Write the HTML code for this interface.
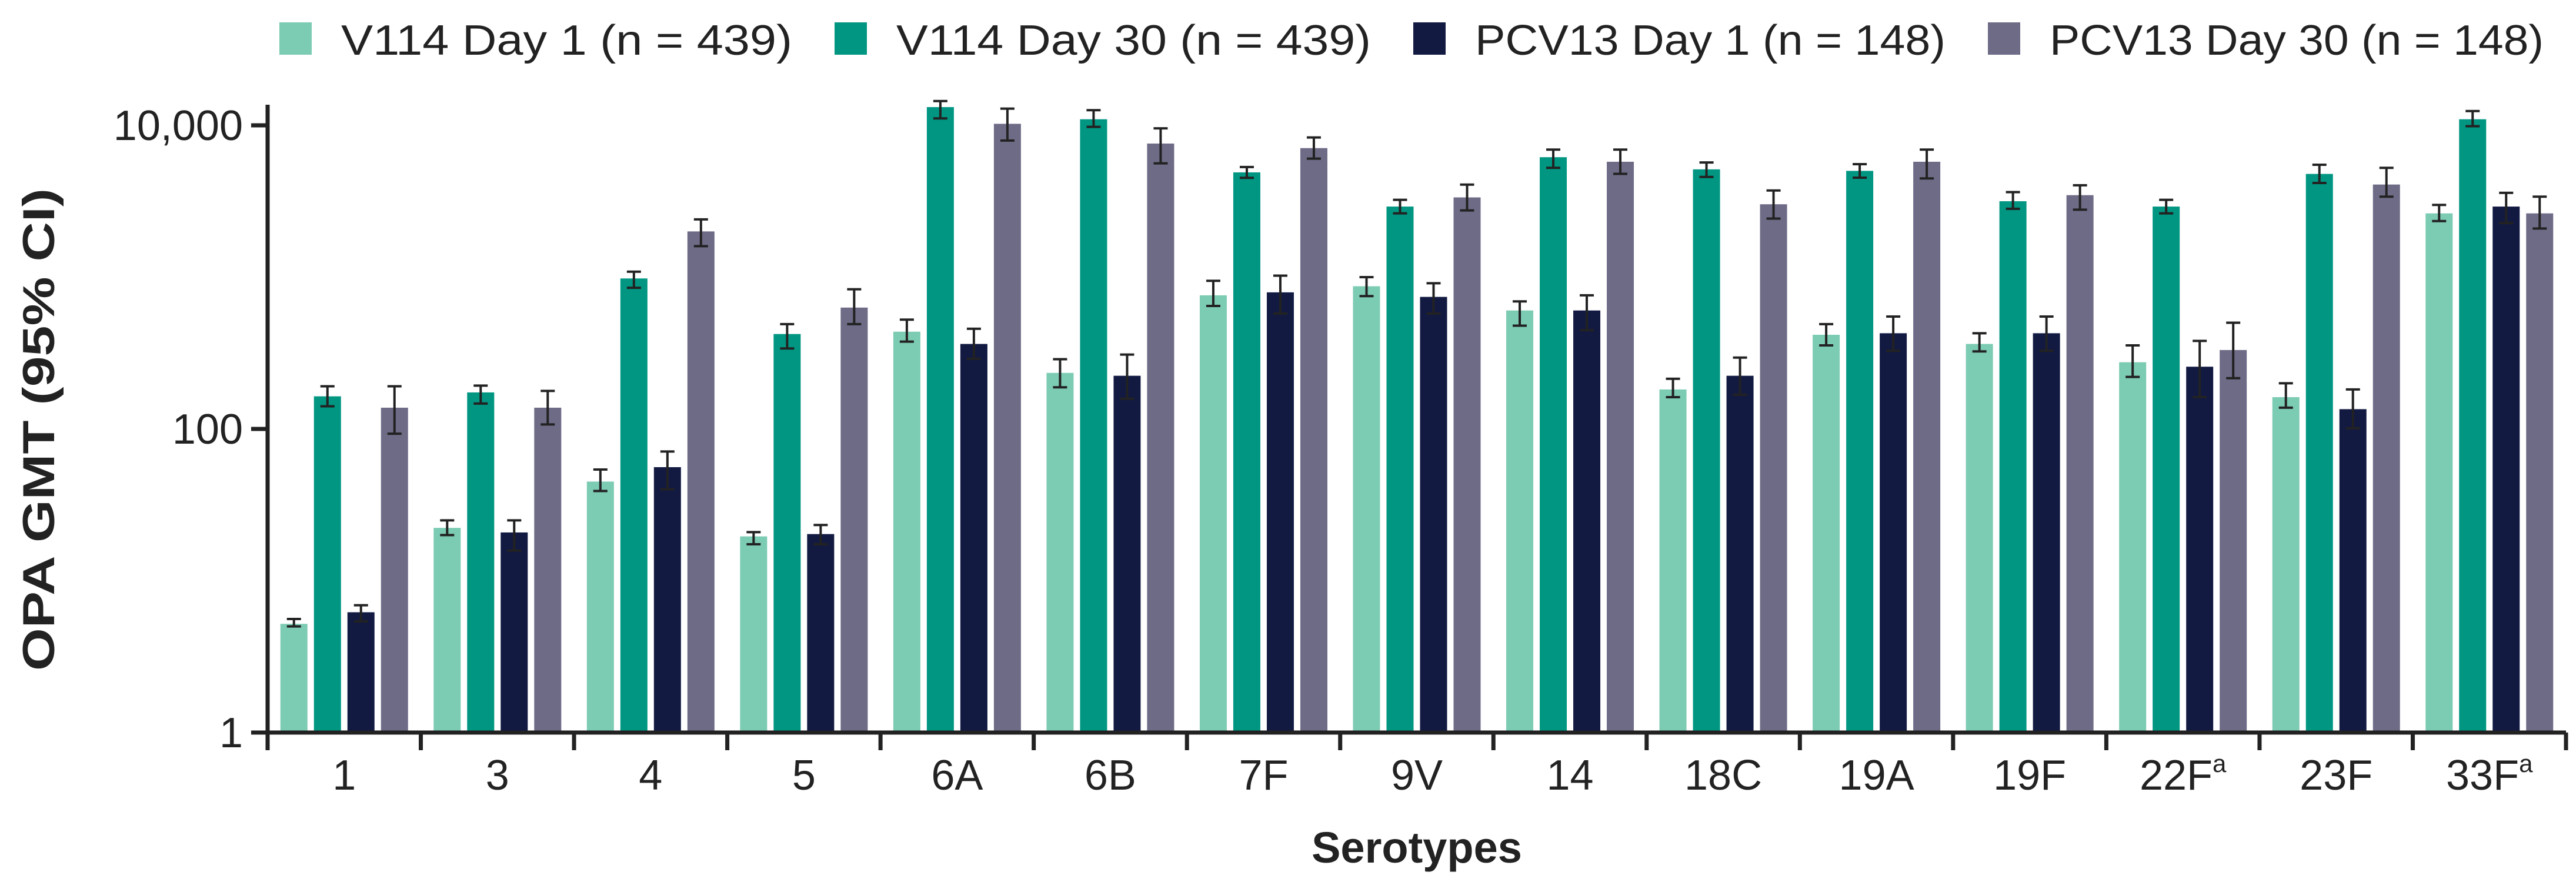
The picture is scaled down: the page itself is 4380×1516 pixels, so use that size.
<!DOCTYPE html>
<html><head><meta charset="utf-8"><style>
html,body{margin:0;padding:0;background:#fff;}
svg{display:block;font-family:"Liberation Sans",Arial,sans-serif;}
</style></head><body>
<svg id="chart" width="4380" height="1516" viewBox="0 0 4380 1516" xmlns="http://www.w3.org/2000/svg">
<g id="legend"></g>
<g id="plot"></g>
<text transform="translate(92,730) rotate(-90)" text-anchor="middle" font-weight="bold" font-size="76" fill="#222" textLength="820" lengthAdjust="spacingAndGlyphs">OPA GMT (95% CI)</text>
<text x="2409" y="1466" text-anchor="middle" font-weight="bold" font-size="74" fill="#222">Serotypes</text>
</svg>
<script>
const categories = ["1","3","4","5","6A","6B","7F","9V","14","18C","19A","19F","22F","23F","33F"];
const superscripts = ["","","","","","","","","","","","","a","","a"];
const seriesNames = ["V114 Day 1 (n = 439)","V114 Day 30 (n = 439)","PCV13 Day 1 (n = 148)","PCV13 Day 30 (n = 148)"];
const v114Day1 = [5.2,22.3,45,19.6,437,234,759,871,603,182,417,363,275,162,2630];
const v114Day1Lo = [5.0,20,39,17.4,376,188,646,750,479,162,355,324,220,138,2340];
const v114Day1Hi = [5.6,25,54,20.9,525,288,946,1000,692,214,490,427,355,200,2990];
const v114Day30 = [164,174,980,422,13183,10965,4898,2917,6166,5129,5012,3162,2917,4786,10965];
const v114Day30Lo = [141,147,851,339,11100,9770,4510,2630,5250,4570,4520,2820,2630,4170,9870];
const v114Day30Hi = [191,193,1086,490,14450,12590,5310,3230,6920,5690,5550,3630,3230,5500,12410];
const pcvDay1 = [6.2,20.8,56,20.3,363,224,794,741,603,224,427,427,257,135,2917];
const pcvDay1Lo = [5.4,15.8,40,17.4,290,158,575,575,447,168,327,327,162,101,2270];
const pcvDay1Hi = [6.9,25,71,23.3,457,309,1023,912,759,295,550,550,380,182,3590];
const pcvDay30 = [138,138,2000,630,10233,7586,7079,3350,5754,3020,5754,3467,331,4074,2630];
const pcvDay30Lo = [93,107,1600,490,7940,5620,6030,2750,4790,2430,4470,2780,216,3390,2090];
const pcvDay30Hi = [191,178,2400,832,12880,9550,8320,4070,6920,3720,6920,4030,501,5250,3390];
const yTickValues = [1,100,10000];
const yTickLabels = ["1","100","10,000"];

const colors = ["#7ccbb3","#009682","#121a42","#6e6b87"];
const series = [[v114Day1,v114Day1Lo,v114Day1Hi],[v114Day30,v114Day30Lo,v114Day30Hi],[pcvDay1,pcvDay1Lo,pcvDay1Hi],[pcvDay30,pcvDay30Lo,pcvDay30Hi]];
const NS="http://www.w3.org/2000/svg";
const X0=455, X1=4363, Y1=1245, Y10k=213;
const catW=(X1-X0)/categories.length;
function yScale(v){return Y1-(Math.log10(v)/4)*(Y1-Y10k);}
function xCat(i){return X0+catW*i;}
function el(tag,attrs,parent){const e=document.createElementNS(NS,tag);for(const k in attrs)e.setAttribute(k,attrs[k]);parent.appendChild(e);return e;}
const plot=document.getElementById('plot');
const legend=document.getElementById('legend');

// legend
let lx=475;
const legendWidths=[767,807,800,840];
seriesNames.forEach((n,i)=>{
  const g=el('g',{},legend);
  
  
  const r=el('rect',{x:lx,y:38,width:55,height:55,fill:colors[i]},g);
  
  
  const t=el('text',{x:lx+105,y:93,'font-size':72,fill:'#222',textLength:legendWidths[i],lengthAdjust:'spacingAndGlyphs'},g);
  
  
  t.textContent=n;
  lx+=105+legendWidths[i]+72;
});

// bars
const bw=46, pitch=57;
const groupW=pitch*3+bw;
categories.forEach((c,i)=>{
  const gx=xCat(i)+(catW-groupW)/2;
  series.forEach((s,j)=>{
    const x=gx+j*pitch;
    const y=yScale(s[0][i]);
    const b=el('rect',{x:x,y:y,width:bw,height:Y1-y,fill:colors[j]},plot);
    
    
    const cx=x+bw/2, yl=yScale(s[1][i]), yh=yScale(s[2][i]);
    const e=el('path',{d:`M${cx},${yl}V${yh}M${cx-12},${yl}H${cx+12}M${cx-12},${yh}H${cx+12}`,stroke:'#222','stroke-width':4,fill:'none'},plot);
    
    
  });
  const lab=el('text',{x:xCat(i)+catW/2,y:1342,'text-anchor':'middle','font-size':72,fill:'#222'},plot);
  
  
  lab.textContent=c;
  if(superscripts[i]){const sp=el('tspan',{'font-size':42,dy:-30},lab);sp.textContent=superscripts[i];}
});

// axes
const ya=el('line',{x1:X0,y1:Y10k-35,x2:X0,y2:Y1+3,stroke:'#222','stroke-width':7},plot);


const xa=el('line',{x1:X0-3,y1:Y1,x2:X1,y2:Y1,stroke:'#222','stroke-width':7},plot);


for(let i=0;i<=categories.length;i++){
  const t=el('line',{x1:xCat(i),y1:Y1,x2:xCat(i),y2:Y1+30,stroke:'#222','stroke-width':7},plot);
  
  
}
yTickValues.forEach((v,k)=>{
  const y=yScale(v);
  const t=el('line',{x1:X0-28,y1:y,x2:X0,y2:y,stroke:'#222','stroke-width':7},plot);
  
  
  const l=el('text',{x:X0-42,y:y+25,'text-anchor':'end','font-size':72,fill:'#222'},plot);
  
  
  l.textContent=yTickLabels[k];
});
</script>
</body></html>
